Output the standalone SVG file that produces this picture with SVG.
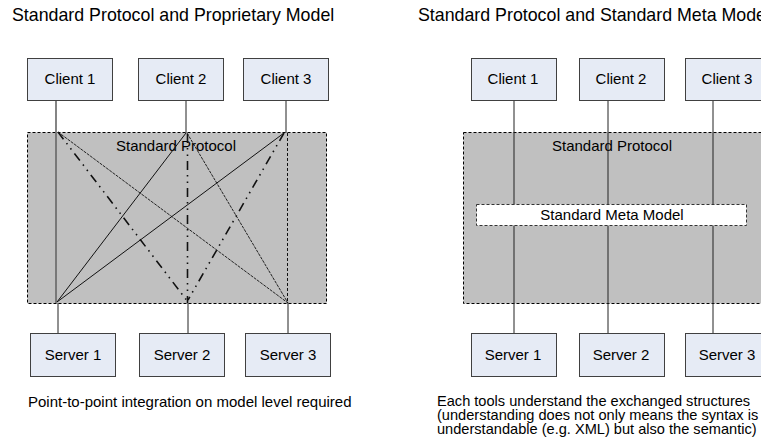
<svg xmlns="http://www.w3.org/2000/svg" width="761" height="446" viewBox="0 0 761 446">
<style>
text{font-family:"Liberation Sans",Arial,sans-serif;fill:#000}
.title{font-size:17.8px}
.lbl{font-size:15px;text-anchor:middle}
.cap{font-size:15px}
.cap2{font-size:14.6px}
.box{fill:#E6EBF5;stroke:#404040;stroke-width:1}
.proto{fill:#C0C0C0;stroke:#000;stroke-width:1;stroke-dasharray:3,2}
.meta{fill:#fff;stroke:#333;stroke-width:1;stroke-dasharray:3,2}
.link{stroke:#222;stroke-width:1;fill:none}
.solid{stroke:#111;stroke-width:1;fill:none}
.thin{stroke:#111;stroke-width:0.9;stroke-dasharray:3,1;fill:none}
.ddot{stroke:#111;stroke-width:1.6;stroke-dasharray:9,5,1.5,5,1.5,5;fill:none}
.vdash{stroke:#111;stroke-width:1;stroke-dasharray:3,2;fill:none}
</style>

<text class="title" x="12" y="21">Standard Protocol and Proprietary Model</text>
<text class="title" x="418" y="21">Standard Protocol and Standard Meta Model</text>

<g id="protocol-left">
<rect class="proto" x="27.5" y="132.5" width="299" height="171"/>
<text class="lbl" x="176" y="151">Standard Protocol</text>
</g>
<g id="protocol-right">
<rect class="proto" x="463.5" y="132.5" width="310" height="171"/>
<text class="lbl" x="612" y="151">Standard Protocol</text>
</g>

<g id="connectors">
<line x1="56" y1="100" x2="56" y2="303" stroke="#666" stroke-width="1.6"/>
<line class="link" x1="186" y1="100" x2="186" y2="133"/>
<line class="link" x1="286" y1="100" x2="286" y2="133"/>
<line class="vdash" x1="287.5" y1="133" x2="287.5" y2="303"/>
<line class="link" x1="58" y1="303" x2="58" y2="333"/>
<line class="link" x1="188" y1="303" x2="188" y2="333"/>
<line class="link" x1="288" y1="303" x2="288" y2="333"/>
<line class="thin" x1="58" y1="132" x2="288" y2="303"/>
<line class="ddot" x1="58" y1="132" x2="188" y2="302"/>
<line class="solid" x1="57" y1="302" x2="186" y2="133"/>
<line class="solid" x1="57" y1="302" x2="284" y2="133"/>
<line class="ddot" x1="187.5" y1="134" x2="187.5" y2="303"/>
<line class="thin" x1="187" y1="133" x2="288" y2="303"/>
<line class="ddot" x1="284" y1="133" x2="188" y2="300"/>
<line class="link" x1="514" y1="100" x2="514" y2="333"/>
<line class="link" x1="608" y1="100" x2="608" y2="333"/>
<line class="link" x1="713" y1="100" x2="713" y2="333"/>
</g>

<g id="meta-model">
<rect class="meta" x="476.5" y="204.5" width="270" height="21"/>
<text class="lbl" x="612" y="219.5">Standard Meta Model</text>
</g>

<g id="client1-left"><rect class="box" x="27.5" y="58.5" width="85" height="42"/><text class="lbl" x="70" y="84">Client 1</text></g>
<g id="client2-left"><rect class="box" x="138.5" y="58.5" width="85" height="42"/><text class="lbl" x="181" y="84">Client 2</text></g>
<g id="client3-left"><rect class="box" x="243.5" y="58.5" width="85" height="42"/><text class="lbl" x="286" y="84">Client 3</text></g>
<g id="server1-left"><rect class="box" x="30.5" y="333.5" width="85" height="43"/><text class="lbl" x="73" y="359.5">Server 1</text></g>
<g id="server2-left"><rect class="box" x="139.5" y="333.5" width="85" height="43"/><text class="lbl" x="182" y="359.5">Server 2</text></g>
<g id="server3-left"><rect class="box" x="245.5" y="333.5" width="85" height="43"/><text class="lbl" x="288" y="359.5">Server 3</text></g>

<g id="client1-right"><rect class="box" x="471.5" y="58.5" width="85" height="42"/><text class="lbl" x="513" y="84">Client 1</text></g>
<g id="client2-right"><rect class="box" x="579.5" y="58.5" width="85" height="42"/><text class="lbl" x="621" y="84">Client 2</text></g>
<g id="client3-right"><rect class="box" x="685.5" y="58.5" width="85" height="42"/><text class="lbl" x="727" y="84">Client 3</text></g>
<g id="server1-right"><rect class="box" x="471.5" y="333.5" width="85" height="43"/><text class="lbl" x="513" y="359.5">Server 1</text></g>
<g id="server2-right"><rect class="box" x="579.5" y="333.5" width="85" height="43"/><text class="lbl" x="621" y="359.5">Server 2</text></g>
<g id="server3-right"><rect class="box" x="685.5" y="333.5" width="85" height="43"/><text class="lbl" x="727" y="359.5">Server 3</text></g>

<text class="cap" x="28" y="407">Point-to-point integration on model level required</text>
<text class="cap2" x="437" y="405.5">Each tools understand the exchanged structures</text>
<text class="cap2" x="437" y="419.5">(understanding does not only means the syntax is</text>
<text class="cap2" x="437" y="433.5">understandable (e.g. XML) but also the semantic)</text>
</svg>
